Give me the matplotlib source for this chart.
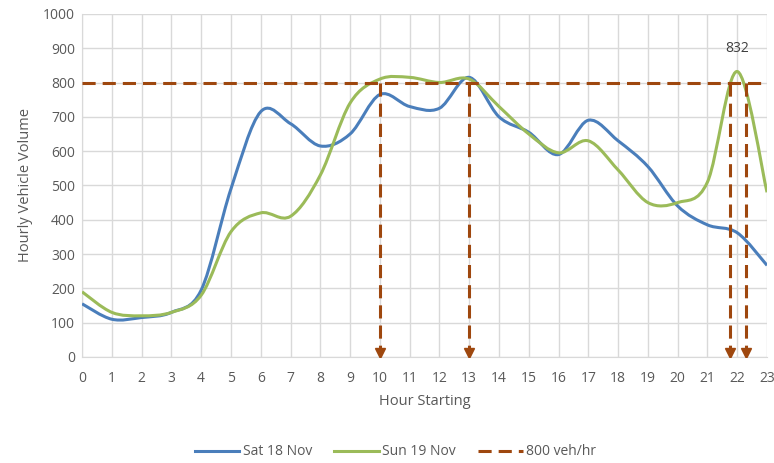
import numpy as np
import matplotlib
matplotlib.use("Agg")
import matplotlib.pyplot as plt
from matplotlib.path import Path
from matplotlib.patches import PathPatch
from matplotlib.lines import Line2D

plt.rcParams['font.family'] = ['Open Sans', 'DejaVu Sans']

# donnees
heures = list(range(24))
samedi = [155, 110, 115, 130, 195, 490, 715, 680, 615, 650, 765, 730,
          725, 815, 700, 655, 590, 690, 630, 555, 440, 385, 362, 267]
dimanche = [190, 130, 120, 130, 180, 365, 420, 410, 530, 740, 810, 815,
            800, 810, 730, 650, 595, 630, 545, 450, 450, 510, 832, 480]
seuil = 800
fleches_x = [10, 13, 21.77, 22.28]
pic_label = "832"
pic_x = 22
pic_y = 832

bleu = "#4A7EBB"
vert = "#9BBB59"
brun = "#9E470E"
gris = "#595959"
tirets = (0, (4.3, 2.3))


def courbe_lisse(x, y):
    """chemin de Bezier comme le lissage d'Excel"""
    x = np.asarray(x, float)
    y = np.asarray(y, float)
    pts = np.column_stack([x, y])
    n = len(pts)
    verts = [pts[0]]
    codes = [Path.MOVETO]
    for i in range(n - 1):
        p0 = pts[i - 1] if i > 0 else pts[i]
        p1 = pts[i]
        p2 = pts[i + 1]
        p3 = pts[i + 2] if i + 2 < n else pts[i + 1]
        c1 = p1 + (p2 - p0) / 6.0
        c2 = p2 - (p3 - p1) / 6.0
        verts += [c1, c2, p2]
        codes += [Path.CURVE4] * 3
    return Path(verts, codes)


fig = plt.figure(figsize=(7.74, 4.63), dpi=100)
ax = fig.add_axes([0.106, 0.229, 0.885, 0.741])

ax.add_patch(PathPatch(courbe_lisse(heures, samedi), fill=False,
                       edgecolor=bleu, lw=2.2, zorder=3))
ax.add_patch(PathPatch(courbe_lisse(heures, dimanche), fill=False,
                       edgecolor=vert, lw=2.2, zorder=3))

# ligne 800 veh/hr
ax.plot([0, 23], [seuil, seuil], color=brun, lw=2.2, ls=tirets, zorder=4)
for fx in fleches_x:
    ax.plot([fx, fx], [seuil, 15], color=brun, lw=2.2, ls=tirets, zorder=4)
    ax.plot([fx], [12], marker="v", color=brun, ms=7, zorder=5)

ax.text(pic_x, pic_y + 45, pic_label, ha="center", va="bottom",
        fontsize=10, color="#404040")

ax.set_xlim(0, 23)
ax.set_ylim(0, 1000)
ax.set_xticks(heures)
ax.set_yticks(np.arange(0, 1001, 100))
ax.tick_params(length=0, labelsize=10, colors=gris)
ax.tick_params(axis="x", pad=10)
ax.tick_params(axis="y", pad=5)
ax.grid(True, color="#D9D9D9", lw=1)
ax.set_axisbelow(True)
for s in ["top", "right"]:
    ax.spines[s].set_visible(False)
for s in ["left", "bottom"]:
    ax.spines[s].set_color("#D9D9D9")

ax.set_xlabel("Hour Starting", fontsize=10.5, color=gris, labelpad=6)
ax.set_ylabel("Hourly Vehicle Volume", fontsize=10.5, color=gris, labelpad=7)

poignees = [Line2D([], [], color=bleu, lw=2.2),
            Line2D([], [], color=vert, lw=2.2),
            Line2D([], [], color=brun, lw=2.2, ls=tirets)]
fig.legend(poignees, ["Sat 18 Nov", "Sun 19 Nov", "800 veh/hr"],
           loc="center", bbox_to_anchor=(0.511, 0.024), ncol=3, frameon=False,
           fontsize=10, labelcolor=gris, handlelength=3.2, columnspacing=1.6,
           handletextpad=0.25)

fig.savefig("out.png", dpi=100)
